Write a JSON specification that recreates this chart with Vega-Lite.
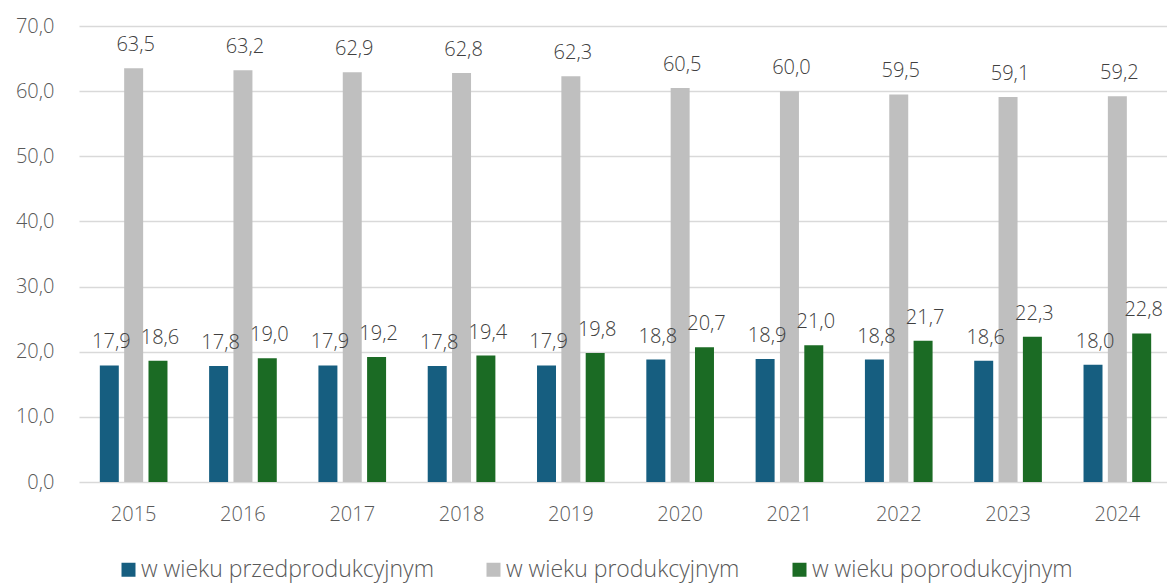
{
  "$schema": "https://vega.github.io/schema/vega-lite/v6.json",
  "width": 1088,
  "height": 456,
  "autosize": {"type": "none"},
  "padding": {"left": 79, "top": 26, "right": 0, "bottom": 102},
  "background": "white",
  "config": {
    "view": {"stroke": null},
    "font": "Open Sans",
    "locale": {"number": {"decimal": ",", "thousands": " ", "grouping": [3], "currency": ["", " zł"]}},
    "axis": {"labelFont": "Open Sans", "labelFontWeight": 300, "labelColor": "#595959", "labelFontSize": 20, "title": null}
  },
  "data": {
    "values": [
      {"rok": "2015", "grupa": "w wieku przedprodukcyjnym", "wartosc": 17.9},
      {"rok": "2015", "grupa": "w wieku produkcyjnym", "wartosc": 63.5},
      {"rok": "2015", "grupa": "w wieku poprodukcyjnym", "wartosc": 18.6},
      {"rok": "2016", "grupa": "w wieku przedprodukcyjnym", "wartosc": 17.8},
      {"rok": "2016", "grupa": "w wieku produkcyjnym", "wartosc": 63.2},
      {"rok": "2016", "grupa": "w wieku poprodukcyjnym", "wartosc": 19.0},
      {"rok": "2017", "grupa": "w wieku przedprodukcyjnym", "wartosc": 17.9},
      {"rok": "2017", "grupa": "w wieku produkcyjnym", "wartosc": 62.9},
      {"rok": "2017", "grupa": "w wieku poprodukcyjnym", "wartosc": 19.2},
      {"rok": "2018", "grupa": "w wieku przedprodukcyjnym", "wartosc": 17.8},
      {"rok": "2018", "grupa": "w wieku produkcyjnym", "wartosc": 62.8},
      {"rok": "2018", "grupa": "w wieku poprodukcyjnym", "wartosc": 19.4},
      {"rok": "2019", "grupa": "w wieku przedprodukcyjnym", "wartosc": 17.9},
      {"rok": "2019", "grupa": "w wieku produkcyjnym", "wartosc": 62.3},
      {"rok": "2019", "grupa": "w wieku poprodukcyjnym", "wartosc": 19.8},
      {"rok": "2020", "grupa": "w wieku przedprodukcyjnym", "wartosc": 18.8},
      {"rok": "2020", "grupa": "w wieku produkcyjnym", "wartosc": 60.5},
      {"rok": "2020", "grupa": "w wieku poprodukcyjnym", "wartosc": 20.7},
      {"rok": "2021", "grupa": "w wieku przedprodukcyjnym", "wartosc": 18.9},
      {"rok": "2021", "grupa": "w wieku produkcyjnym", "wartosc": 60.0},
      {"rok": "2021", "grupa": "w wieku poprodukcyjnym", "wartosc": 21.0},
      {"rok": "2022", "grupa": "w wieku przedprodukcyjnym", "wartosc": 18.8},
      {"rok": "2022", "grupa": "w wieku produkcyjnym", "wartosc": 59.5},
      {"rok": "2022", "grupa": "w wieku poprodukcyjnym", "wartosc": 21.7},
      {"rok": "2023", "grupa": "w wieku przedprodukcyjnym", "wartosc": 18.6},
      {"rok": "2023", "grupa": "w wieku produkcyjnym", "wartosc": 59.1},
      {"rok": "2023", "grupa": "w wieku poprodukcyjnym", "wartosc": 22.3},
      {"rok": "2024", "grupa": "w wieku przedprodukcyjnym", "wartosc": 18.0},
      {"rok": "2024", "grupa": "w wieku produkcyjnym", "wartosc": 59.2},
      {"rok": "2024", "grupa": "w wieku poprodukcyjnym", "wartosc": 22.8}
    ]
  },
  "encoding": {
    "x": {
      "field": "rok", "type": "nominal",
      "scale": {"range": [0, 1093], "paddingInner": 0.332, "paddingOuter": 0.166},
      "axis": {"labelAngle": 0, "domain": false, "ticks": false, "labelPadding": 22, "labelFontSize": 20}
    },
    "xOffset": {
      "field": "grupa", "type": "nominal",
      "sort": ["w wieku przedprodukcyjnym", "w wieku produkcyjnym", "w wieku poprodukcyjnym"],
      "scale": {"paddingInner": 0.22, "paddingOuter": 0.11}
    },
    "y": {
      "field": "wartosc", "type": "quantitative",
      "scale": {"domain": [0, 70]},
      "axis": {"values": [0, 10, 20, 30, 40, 50, 60, 70], "format": ".1f", "domain": false, "ticks": false,
        "gridColor": "#d9d9d9", "gridWidth": 1.5, "labelPadding": 25, "labelFontSize": 20}
    }
  },
  "layer": [
    {
      "mark": {"type": "bar"},
      "encoding": {
        "color": {
          "field": "grupa", "type": "nominal",
          "sort": ["w wieku przedprodukcyjnym", "w wieku produkcyjnym", "w wieku poprodukcyjnym"],
          "scale": {"domain": ["w wieku przedprodukcyjnym", "w wieku produkcyjnym", "w wieku poprodukcyjnym"],
            "range": ["#165e80", "#bfbfbf", "#1b6b24"]},
          "legend": {"title": null, "orient": "none", "direction": "horizontal", "columns": 3,
            "legendX": 38, "legendY": 532, "symbolType": "square", "symbolSize": 196, "symbolStrokeWidth": 0,
            "labelFontSize": 23, "labelFontWeight": 300, "labelColor": "#595959", "labelFont": "Open Sans", "labelOffset": 1,
            "columnPadding": 48, "labelLimit": 400}
        }
      }
    },
    {
      "mark": {"type": "text", "baseline": "alphabetic", "dy": -17, "dx": 2, "fontSize": 20, "fontWeight": 300, "color": "#404040", "font": "Open Sans"},
      "encoding": {
        "text": {"field": "wartosc", "type": "quantitative", "format": ".1f"}
      }
    }
  ]
}
